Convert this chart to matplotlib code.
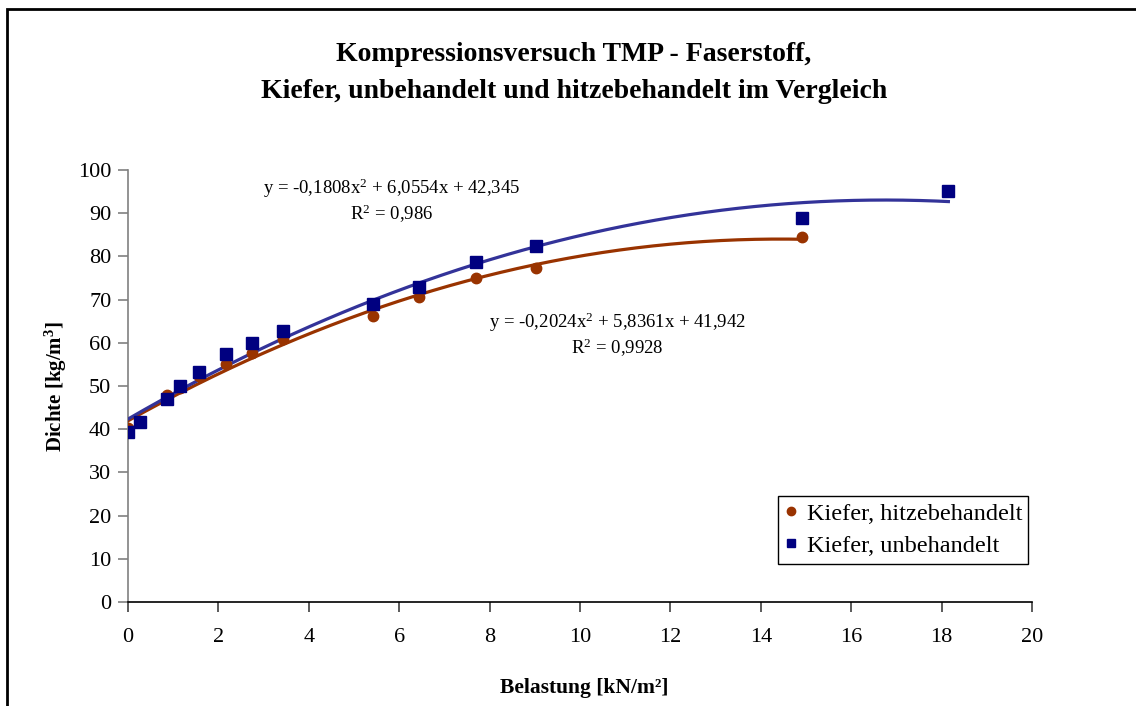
import matplotlib
matplotlib.use("Agg")
import matplotlib.pyplot as plt
import numpy as np
from matplotlib.patches import Rectangle

plt.rcParams['font.family'] = ['Liberation Serif', 'DejaVu Serif']
plt.rcParams['mathtext.fontset'] = 'custom'
plt.rcParams['mathtext.rm'] = 'Liberation Serif'
plt.rcParams['mathtext.it'] = 'Liberation Serif:italic'
plt.rcParams['mathtext.bf'] = 'Liberation Serif:bold'
plt.rcParams['mathtext.default'] = 'regular'

# Data
x_hitze = [0.0, 0.86, 1.15, 1.56, 2.16, 2.75, 3.44, 5.41, 6.44, 7.71, 9.02, 14.92]
y_hitze = [40.3, 47.9, 49.5, 52.2, 55.1, 57.7, 60.9, 66.3, 70.7, 74.9, 77.4, 84.4]
x_unbeh = [0.0, 0.27, 0.86, 1.15, 1.56, 2.16, 2.75, 3.44, 5.41, 6.44, 7.71, 9.02, 14.92, 18.15]
y_unbeh = [39.4, 41.7, 47.0, 50.1, 53.2, 57.4, 60.0, 62.8, 69.0, 73.0, 78.6, 82.4, 88.8, 95.1]

# Trendline coefficients (as printed on chart)
coef_hitze = [-0.2024, 5.8361, 41.942]
coef_unbeh = [-0.1808, 6.0554, 42.345]
eq_hitze = "y = -0,2024x$^2$ + 5,8361x + 41,942\nR$^2$ = 0,9928"
eq_unbeh = "y = -0,1808x$^2$ + 6,0554x + 42,345\nR$^2$ = 0,986"

label_hitze = "Kiefer, hitzebehandelt"
label_unbeh = "Kiefer, unbehandelt"
title = "Kompressionsversuch TMP - Faserstoff,\nKiefer, unbehandelt und hitzebehandelt im Vergleich"
xlabel = "Belastung [kN/m²]"
ylabel = "Dichte [kg/m$\\mathbf{^3}$]"
xticks = list(range(0, 21, 2))
yticks = list(range(0, 101, 10))

c_hitze_m = '#993300'
c_hitze_l = '#993300'
c_unbeh_m = '#000080'
c_unbeh_l = '#333399'

W, H = 1136, 706
fig = plt.figure(figsize=(W / 100, H / 100), dpi=100)
fig.patch.set_facecolor('white')

# outer frame (extends beyond right/bottom edge)
fig.patches.append(Rectangle((7 / W, -0.05), 1.2, 1 - 9 / H + 0.05, transform=fig.transFigure,
                             fill=False, edgecolor='black', linewidth=2.0, zorder=0))

ax = fig.add_axes([128 / W, 1 - 602 / H, (1032 - 128) / W, (602 - 170) / H])

xs_h = np.linspace(min(x_hitze), max(x_hitze), 200)
xs_u = np.linspace(min(x_unbeh), max(x_unbeh), 200)
ax.plot(xs_h, np.polyval(coef_hitze, xs_h), color=c_hitze_l, lw=2.3, zorder=3)
ax.plot(xs_u, np.polyval(coef_unbeh, xs_u), color=c_unbeh_l, lw=2.3, zorder=3)

ax.plot(x_hitze, y_hitze, 'o', color=c_hitze_m, ms=7.5, mec=c_hitze_m, label=label_hitze, zorder=4)
ax.plot(x_unbeh, y_unbeh, 's', color=c_unbeh_m, ms=8, mec=c_unbeh_m, label=label_unbeh, zorder=5)

ax.set_xlim(0, 20)
ax.set_ylim(0, 100)
ax.set_xticks(xticks)
ax.set_yticks(yticks)
ax.tick_params(axis='both', labelsize=16, direction='out', length=7, width=1.2)
ax.tick_params(axis='y', colors='#808080', labelcolor='black', pad=5)
ax.tick_params(axis='x', colors='#404040', labelcolor='black', pad=12)

for s in ['top', 'right']:
    ax.spines[s].set_visible(False)
ax.spines['left'].set_color('#808080')
ax.spines['left'].set_linewidth(1.2)
ax.spines['bottom'].set_color('black')
ax.spines['bottom'].set_linewidth(1.2)

ax.set_xlabel(xlabel, fontsize=15.5, fontweight='bold')
ax.xaxis.set_label_coords((584 - 128) / 904, -(688 - 602) / 432)
ax.xaxis.label.set_va('center')
ax.set_ylabel(ylabel, fontsize=15, fontweight='bold')
ax.yaxis.set_label_coords((56 - 128) / 904, (602 - 387) / 432)
ax.yaxis.label.set_va('center')

ax.text(5.84, 92.8, eq_unbeh, ha='center', va='center', fontsize=13.5, multialignment='center', linespacing=1.15)
ax.text(10.82, 61.8, eq_hitze, ha='center', va='center', fontsize=13.5, multialignment='center', linespacing=1.15)

leg = ax.legend(loc='lower left', bbox_to_anchor=((778 - 128) / 904, (602 - 564) / 432,
                                                   (1028 - 778) / 904, (564 - 486) / 432),
                mode='expand', fontsize=17.5, frameon=True, fancybox=False, framealpha=1,
                edgecolor='black', handlelength=0.5, handletextpad=0.4, borderpad=0.3,
                labelspacing=0.4, markerscale=0.8, borderaxespad=0)
leg.get_frame().set_linewidth(1.0)

fig.text(574 / W, 1 - 73 / H, title, ha='center', va='center', fontsize=20, fontweight='bold',
         linespacing=1.62)

fig.savefig('out.png', dpi=100, facecolor='white')
